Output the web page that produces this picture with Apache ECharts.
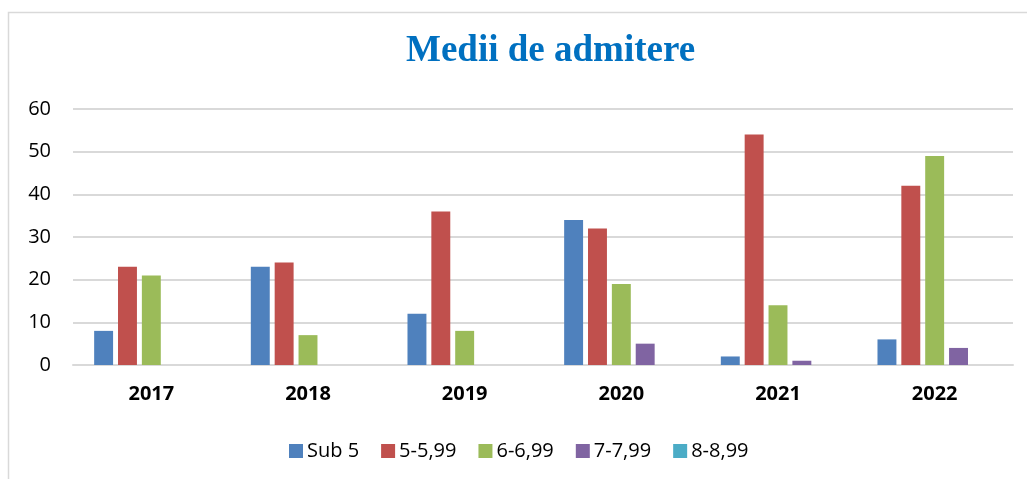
<!DOCTYPE html>
<html>
<head>
<meta charset="utf-8">
<style>
  html, body { margin: 0; padding: 0; background: #fff; }
  #main { width: 1027px; height: 479px; }
</style>
<script src="https://cdn.jsdelivr.net/npm/echarts@6/dist/echarts.min.js"></script>
</head>
<body>
<div id="main"></div>
<script>
var years = ["2017", "2018", "2019", "2020", "2021", "2022"];
var seriesNames = ["Sub 5", "5-5,99", "6-6,99", "7-7,99", "8-8,99"];
var sub5 = [8, 23, 12, 34, 2, 6];
var v5 = [23, 24, 36, 32, 54, 42];
var v6 = [21, 7, 8, 19, 14, 49];
var v7 = [0, 0, 0, 5, 1, 4];
var v8 = [0, 0, 0, 0, 0, 0];
var colors = ["#4F81BD", "#C0504D", "#9BBB59", "#8064A2", "#4BACC6"];

var myChart = echarts.init(document.getElementById("main"));
var values = [sub5, v5, v6, v7, v8];

var series = seriesNames.map(function (name, i) {
  return {
    name: name,
    type: "bar",
    data: values[i],
    barGap: "26%",
    barCategoryGap: "27%",
    itemStyle: { color: colors[i] },
  };
});

myChart.setOption({
  animation: false,
  color: colors,
  graphic: [
    {
      type: "rect",
      shape: { x: 8.5, y: 12.5, width: 1040, height: 500 },
      style: { fill: null, stroke: "#d9d9d9", lineWidth: 1.5 },
      silent: true,
    },
  ],
  title: {
    text: "Medii de admitere",
    left: 401,
    top: 28,
    textStyle: {
      fontFamily: "Liberation Serif",
      fontWeight: "bold",
      fontSize: 37,
      color: "#0070C0",
    },
  },
  legend: {
    data: seriesNames,
    left: 284,
    top: 436,
    itemWidth: 14,
    itemHeight: 14,
    itemGap: 22,
    icon: "rect",
    textStyle: { fontFamily: "Open Sans", fontSize: 20, color: "#000", padding: [0, 0, 0, -1] },
  },
  grid: { left: 73, right: 14, top: 109, bottom: 114, containLabel: false },
  xAxis: {
    type: "category",
    data: years,
    axisTick: { show: false },
    axisLine: { lineStyle: { color: "#d9d9d9", width: 2 } },
    axisLabel: {
      fontFamily: "Open Sans",
      fontWeight: "bold",
      fontSize: 20,
      color: "#000",
      margin: 19,
    },
  },
  yAxis: {
    type: "value",
    min: 0,
    max: 60,
    interval: 10,
    axisLine: { show: false },
    axisTick: { show: false },
    splitLine: { lineStyle: { color: "#d9d9d9", width: 2 } },
    axisLabel: { fontFamily: "Open Sans", fontSize: 20, color: "#000", margin: 22 },
  },
  series: series,
});
</script>
</body>
</html>
